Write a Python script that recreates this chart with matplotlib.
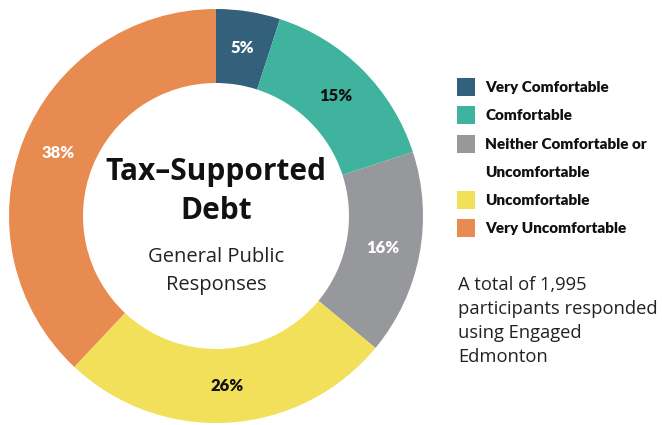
import matplotlib.pyplot as plt
from matplotlib.patches import Rectangle

# Survey responses
categories = ["Very Comfortable", "Comfortable", "Neither Comfortable or\nUncomfortable",
              "Uncomfortable", "Very Uncomfortable"]
shares = [5, 15, 16, 26, 38]
colors = ["#33607A", "#3FB39D", "#97989C", "#F2E05A", "#E88B50"]
label_colors = ["white", "#111111", "white", "#111111", "white"]

W, H = 662, 425
fig = plt.figure(figsize=(W / 100, H / 100), dpi=100)
ax = fig.add_axes([0, 0, 1, 1])

cx, cy, R, r = 216, H - 216, 207, 133
wedges, texts, autotexts = ax.pie(
    shares, colors=colors, startangle=90, counterclock=False,
    radius=R, center=(cx, cy), frame=True,
    wedgeprops=dict(width=R - r, linewidth=0),
    autopct=lambda p: f"{p:.0f}%", pctdistance=(R + r) / 2 / R,
)
for t, c in zip(autotexts, label_colors):
    t.set_color(c)
    t.set_fontsize(12)
    t.set_fontweight("heavy")
    t.set_fontfamily("Lato")

ax.set_xlim(0, W)
ax.set_ylim(0, H)
ax.set_aspect("equal")
ax.axis("off")

# Centre title
ax.text(cx, H - 172, "Tax–Supported", ha="center", va="center",
        fontsize=21.5, fontweight="bold", family="Open Sans", color="#111111")
ax.text(cx, H - 211, "Debt", ha="center", va="center",
        fontsize=21.5, fontweight="bold", family="Open Sans", color="#111111")
ax.text(cx, H - 257, "General Public", ha="center", va="center",
        fontsize=14.5, family="Open Sans", color="#222222")
ax.text(cx, H - 285, "Responses", ha="center", va="center",
        fontsize=14.5, family="Open Sans", color="#222222")

# Legend: swatch rows, with the long label wrapped onto a second row
swatch_rows = [87, 115, 144, 200, 228]
for y, lab, col in zip(swatch_rows, categories, colors):
    ax.add_patch(Rectangle((457, H - y - 9), 18, 18, color=col, lw=0))
    for k, part in enumerate(lab.split("\n")):
        ax.text(485, H - (y + 28 * k), part, ha="left", va="center",
                fontsize=11, fontweight="heavy", family="Lato",
                color="#111111")

# Footnote
note = ["A total of 1,995", "participants responded", "using Engaged", "Edmonton"]
for i, line in enumerate(note):
    ax.text(458, H - (285 + 24 * i), line, ha="left", va="center",
            fontsize=13.2, family="Open Sans", color="#222222")

fig.savefig("out.png", dpi=100)
